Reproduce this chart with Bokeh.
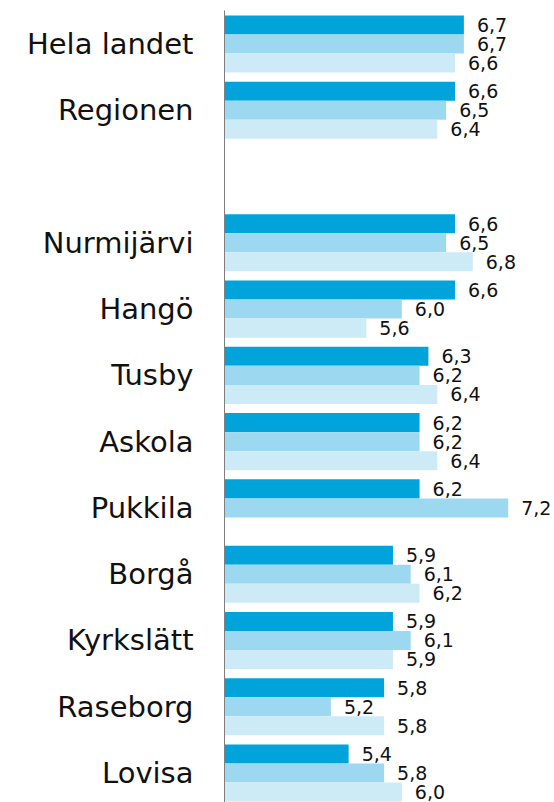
from bokeh.plotting import figure
from bokeh.models import ColumnDataSource, Range1d, FixedTicker
from bokeh.core.properties import value
from bokeh.embed import file_html
from bokeh.resources import INLINE

# ---- data ----
categories = ["Hela landet", "Regionen", "Nurmijärvi", "Hangö", "Tusby", "Askola",
              "Pukkila", "Borgå", "Kyrkslätt", "Raseborg", "Lovisa"]
serie_1 = [6.7, 6.6, 6.6, 6.6, 6.3, 6.2, 6.2, 5.9, 5.9, 5.8, 5.4]
serie_2 = [6.7, 6.5, 6.5, 6.0, 6.2, 6.2, 7.2, 6.1, 6.1, 5.2, 5.8]
serie_3 = [6.6, 6.4, 6.8, 5.6, 6.4, 6.4, None, 6.2, 5.9, 5.8, 6.0]

colors = ["#00A4DB", "#9CD9F1", "#CDEBF7"]
series = [serie_1, serie_2, serie_3]

# slot index: an empty slot separates the two reference rows from the municipalities
slots = [i if i < 2 else i + 1 for i in range(len(categories))]

bar_h = 0.287
offsets = [-bar_h, 0.0, bar_h]

p = figure(width=554, height=802, output_backend="svg", toolbar_location=None,
           x_range=Range1d(4.0, 7.722), y_range=Range1d(11.4456, -0.506),
           min_border_left=224, min_border_right=0, min_border_top=10, min_border_bottom=0)
p.outline_line_color = None
p.xgrid.visible = False
p.ygrid.visible = False
p.xaxis.visible = False
p.background_fill_color = "white"
p.border_fill_color = "white"

for vals, off, col in zip(series, offsets, colors):
    ys, xs, labels = [], [], []
    for s, v in zip(slots, vals):
        if v is None:
            continue
        ys.append(s + off)
        xs.append(v)
        labels.append(f"{v:.1f}".replace(".", ","))
    src = ColumnDataSource(dict(y=ys, x=xs, lab=labels))
    p.hbar(y="y", right="x", left=0, height=bar_h, source=src,
           fill_color=col, line_color=None)
    p.text(x="x", y="y", text="lab", source=src, x_offset=13, y_offset=0,
           text_align="left", text_baseline="middle",
           text_font=value("DejaVu Sans"), text_font_size="19px", text_color="#111111")

yax = p.yaxis[0]
yax.ticker = FixedTicker(ticks=slots)
yax.major_label_overrides = {s: c for s, c in zip(slots, categories)}
yax.axis_line_color = "#7f7f7f"
yax.axis_line_width = 1
yax.major_tick_line_color = None
yax.minor_tick_line_color = None
yax.major_tick_out = 0
yax.major_tick_in = 0
yax.major_label_standoff = 31
yax.major_label_text_font = "DejaVu Sans"
yax.major_label_text_font_size = "29px"
yax.major_label_text_color = "#111111"

open("out.html", "w").write(file_html(p, INLINE))
